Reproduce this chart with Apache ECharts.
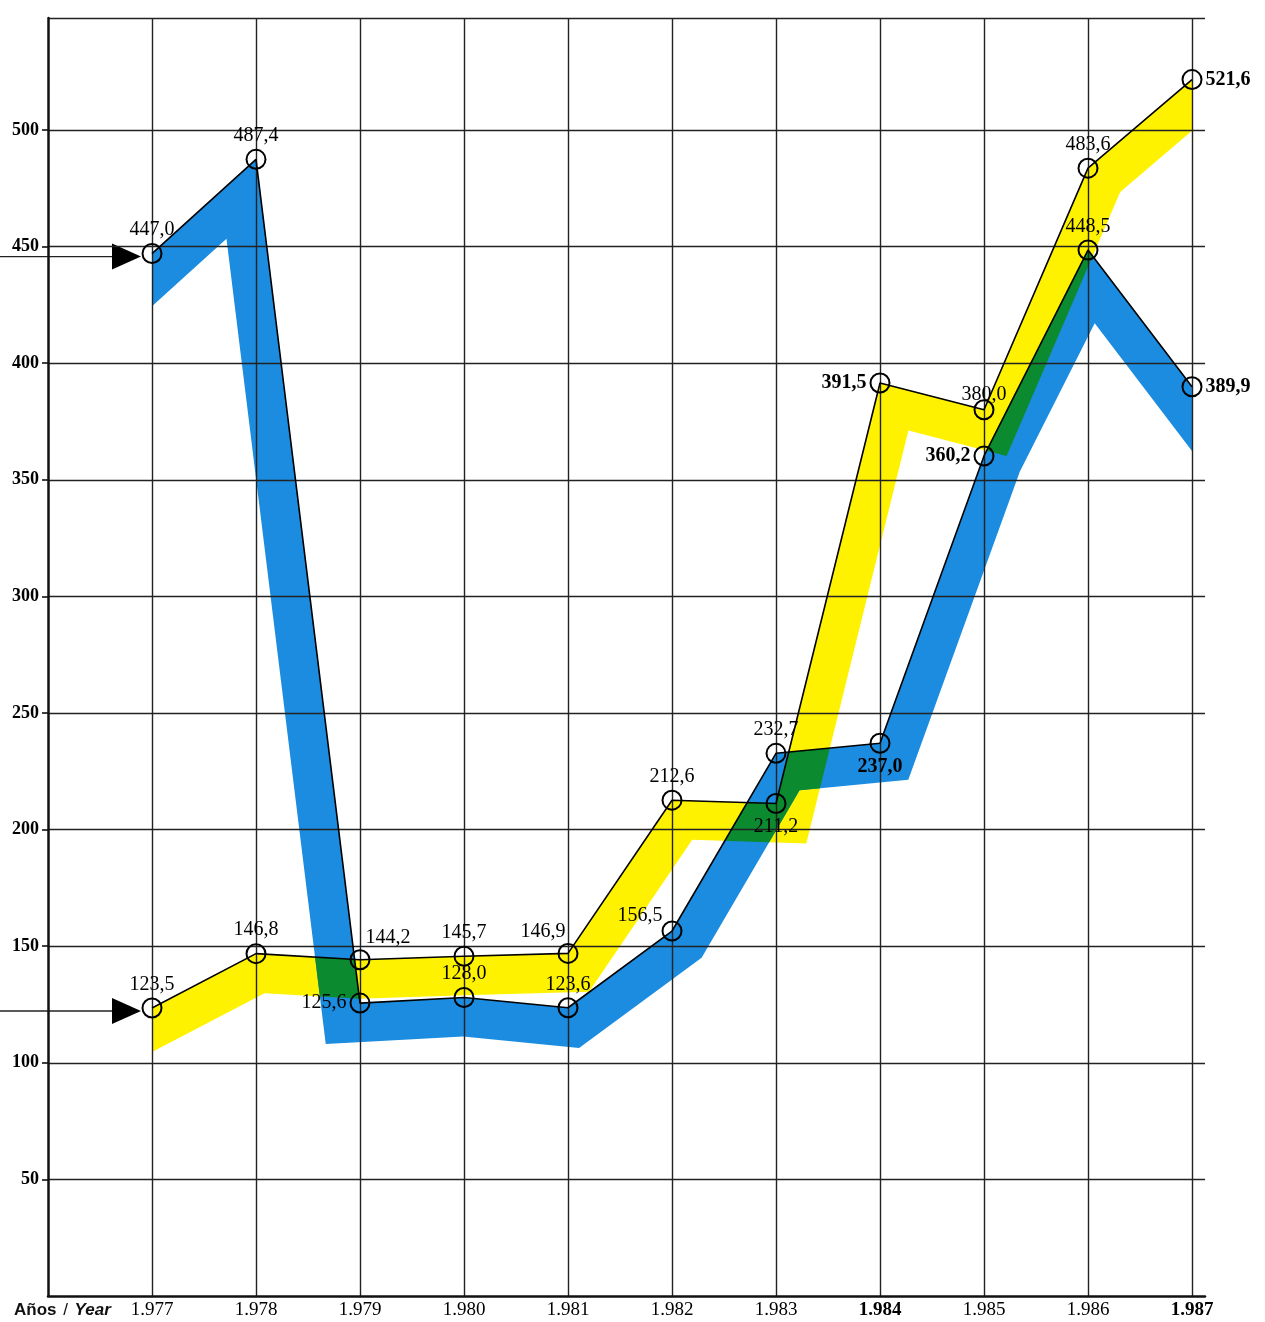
<!DOCTYPE html>
<html>
<head>
<meta charset="utf-8">
<title>Años / Year</title>
<script src="https://cdn.jsdelivr.net/npm/echarts@6/dist/echarts.min.js"></script>
<style>
html, body { margin: 0; padding: 0; background: #fff; }
#main { width: 1265px; height: 1322px; }
</style>
</head>
<body>
<div id="main"></div>
<script>
// datos
var years = [1977, 1978, 1979, 1980, 1981, 1982, 1983, 1984, 1985, 1986, 1987];
var blueValues = [447.0, 487.4, 125.6, 128.0, 123.6, 156.5, 232.7, 237.0, 360.2, 448.5, 389.9];
var yellowValues = [123.5, 146.8, 144.2, 145.7, 146.9, 212.6, 211.2, 391.5, 380.0, 483.6, 521.6];
var boldYears = [1984, 1987];
var frameTop = 548;

// colocacion de las etiquetas (solo estilo)
var blueLabels = [
    {pos: 'top'}, {pos: 'top'}, {pos: 'left'}, {pos: 'top'}, {pos: 'top'},
    {pos: 'top', dx: -32, dy: 8}, {pos: 'top'}, {pos: 'bottom', bold: true},
    {pos: 'left', bold: true}, {pos: 'top'}, {pos: 'right', bold: true}
];
var yellowLabels = [
    {pos: 'top'}, {pos: 'top'}, {pos: 'top', dx: 28, dy: 2}, {pos: 'top'}, {pos: 'top', dx: -25, dy: 2},
    {pos: 'top'}, {pos: 'bottom'}, {pos: 'left', bold: true},
    {pos: 'top', dy: 8}, {pos: 'top'}, {pos: 'right', bold: true}
];

var BLUE = '#1b8ce0';
var YELLOW = '#fff200';
var GREEN = '#0b8a2f';
var bandWidth = 39;
var serif = '"Liberation Serif", "DejaVu Serif", serif';
var sans = '"Liberation Sans", Arial, sans-serif';

function fmt(v) {
    return v.toFixed(1).replace('.', ',');
}

// linea desplazada hacia abajo (union en inglete)
function offsetLine(pts, d) {
    var dirs = [], norms = [];
    for (var i = 0; i < pts.length - 1; i++) {
        var dx = pts[i + 1][0] - pts[i][0];
        var dy = pts[i + 1][1] - pts[i][1];
        var L = Math.sqrt(dx * dx + dy * dy);
        dirs.push([dx / L, dy / L]);
        norms.push([-dy / L, dx / L]);
    }
    var q = [];
    var n = norms[0], t = dirs[0];
    var s = n[0] * d / t[0];
    q.push([pts[0][0] + n[0] * d - t[0] * s, pts[0][1] + n[1] * d - t[1] * s]);
    for (var j = 1; j < pts.length - 1; j++) {
        var a = norms[j - 1], b = norms[j];
        var k = d / (1 + a[0] * b[0] + a[1] * b[1]);
        q.push([pts[j][0] + (a[0] + b[0]) * k, pts[j][1] + (a[1] + b[1]) * k]);
    }
    var last = pts.length - 1;
    n = norms[last - 1]; t = dirs[last - 1];
    s = n[0] * d / t[0];
    q.push([pts[last][0] + n[0] * d - t[0] * s, pts[last][1] + n[1] * d - t[1] * s]);
    return q;
}

function bandPolygon(api, values) {
    var pts = [];
    for (var i = 0; i < years.length; i++) {
        pts.push(api.coord([years[i], values[i]]));
    }
    var q = offsetLine(pts, bandWidth);
    return {pts: pts, poly: pts.concat(q.slice().reverse())};
}

function arrowAt(p0) {
    var ay = p0[1] + 3;
    return [
        {type: 'line', shape: {x1: 0, y1: ay, x2: p0[0] - 38, y2: ay},
            style: {stroke: '#222', lineWidth: 1.3}},
        {type: 'polygon', shape: {points: [[p0[0] - 40, ay - 13], [p0[0] - 11, ay], [p0[0] - 40, ay + 13]]},
            style: {fill: '#000'}}
    ];
}

function renderYellow(params, api) {
    if (params.dataIndex !== 0) return null;
    var y = bandPolygon(api, yellowValues);
    return {
        type: 'group',
        children: [{type: 'polygon', shape: {points: y.poly}, style: {fill: YELLOW}}].concat(arrowAt(y.pts[0]))
    };
}

function renderBlue(params, api) {
    if (params.dataIndex !== 0) return null;
    var b = bandPolygon(api, blueValues);
    var y = bandPolygon(api, yellowValues);
    return {
        type: 'group',
        children: [
            {type: 'polygon', shape: {points: b.poly}, style: {fill: BLUE}},
            // zona donde se cruzan las dos bandas
            {type: 'polygon', shape: {points: b.poly}, style: {fill: GREEN},
                clipPath: {type: 'polygon', shape: {points: y.poly}}}
        ].concat(arrowAt(b.pts[0]))
    };
}

function lineData(values, labels) {
    var out = [];
    for (var i = 0; i < years.length; i++) {
        var l = labels[i];
        out.push({
            value: [years[i], values[i]],
            label: {
                position: l.pos,
                offset: [l.dx || 0, l.dy || 0],
                fontWeight: l.bold ? 'bold' : 'normal'
            }
        });
    }
    return out;
}

function lineSeries(name, values, labels) {
    return {
        name: name,
        type: 'line',
        z: 5,
        data: lineData(values, labels),
        symbol: 'circle',
        symbolSize: 19,
        itemStyle: {color: 'rgba(0,0,0,0)', borderColor: '#000', borderWidth: 2},
        lineStyle: {color: '#000', width: 1.6},
        label: {
            show: true,
            distance: 3,
            color: '#000',
            fontFamily: serif,
            fontSize: 20,
            formatter: function (p) { return fmt(p.value[1]); }
        },
        emphasis: {disabled: true}
    };
}

var myChart = echarts.init(document.getElementById('main'));
var option = {
    backgroundColor: '#fff',
    animation: false,
    grid: {left: 48, right: 60, top: 18, bottom: 26},
    xAxis: {
        type: 'value',
        min: 1976,
        max: 1987.125,
        interval: 1,
        z: 3,
        axisLine: {show: true, lineStyle: {color: '#111', width: 2.5}},
        axisTick: {show: false},
        splitLine: {show: true, showMinLine: false, showMaxLine: false, lineStyle: {color: '#222', width: 1.4}},
        axisLabel: {
            showMinLabel: false,
            showMaxLabel: false,
            margin: 5,
            color: '#000',
            fontFamily: serif,
            fontSize: 19,
            formatter: function (v) {
                var s = '1.' + String(v).slice(1);
                return boldYears.indexOf(v) >= 0 ? '{b|' + s + '}' : s;
            },
            rich: {b: {fontWeight: 'bold', fontFamily: serif, fontSize: 19, color: '#000'}}
        }
    },
    yAxis: {
        type: 'value',
        min: 0,
        max: frameTop,
        interval: 50,
        z: 3,
        axisLine: {show: true, lineStyle: {color: '#111', width: 2.5}},
        axisTick: {show: true, length: 6, lineStyle: {color: '#111', width: 1.6}},
        splitLine: {show: true, showMinLine: false, showMaxLine: true, lineStyle: {color: '#222', width: 1.4}},
        axisLabel: {
            showMinLabel: false,
            showMaxLabel: false,
            margin: 9,
            color: '#000',
            fontFamily: serif,
            fontWeight: 'bold',
            fontSize: 18
        }
    },
    graphic: [{
        type: 'text',
        left: 14,
        top: 1302,
        style: {
            text: '{a|Años}  {s|/}  {c|Year}',
            rich: {
                a: {fontFamily: sans, fontWeight: 'bold', fontSize: 17, fill: '#111'},
                s: {fontFamily: sans, fontSize: 17, fill: '#111'},
                c: {fontFamily: sans, fontWeight: 'bold', fontStyle: 'italic', fontSize: 17, fill: '#111'}
            }
        }
    }],
    series: [
        {
            type: 'custom',
            name: 'banda amarilla',
            clip: false,
            z: 1,
            data: years.map(function (y, i) { return [y, yellowValues[i]]; }),
            renderItem: renderYellow
        },
        {
            type: 'custom',
            name: 'banda azul',
            clip: false,
            z: 1,
            data: years.map(function (y, i) { return [y, blueValues[i]]; }),
            renderItem: renderBlue
        },
        lineSeries('azul', blueValues, blueLabels),
        lineSeries('amarillo', yellowValues, yellowLabels)
    ]
};
myChart.setOption(option);
</script>
</body>
</html>
